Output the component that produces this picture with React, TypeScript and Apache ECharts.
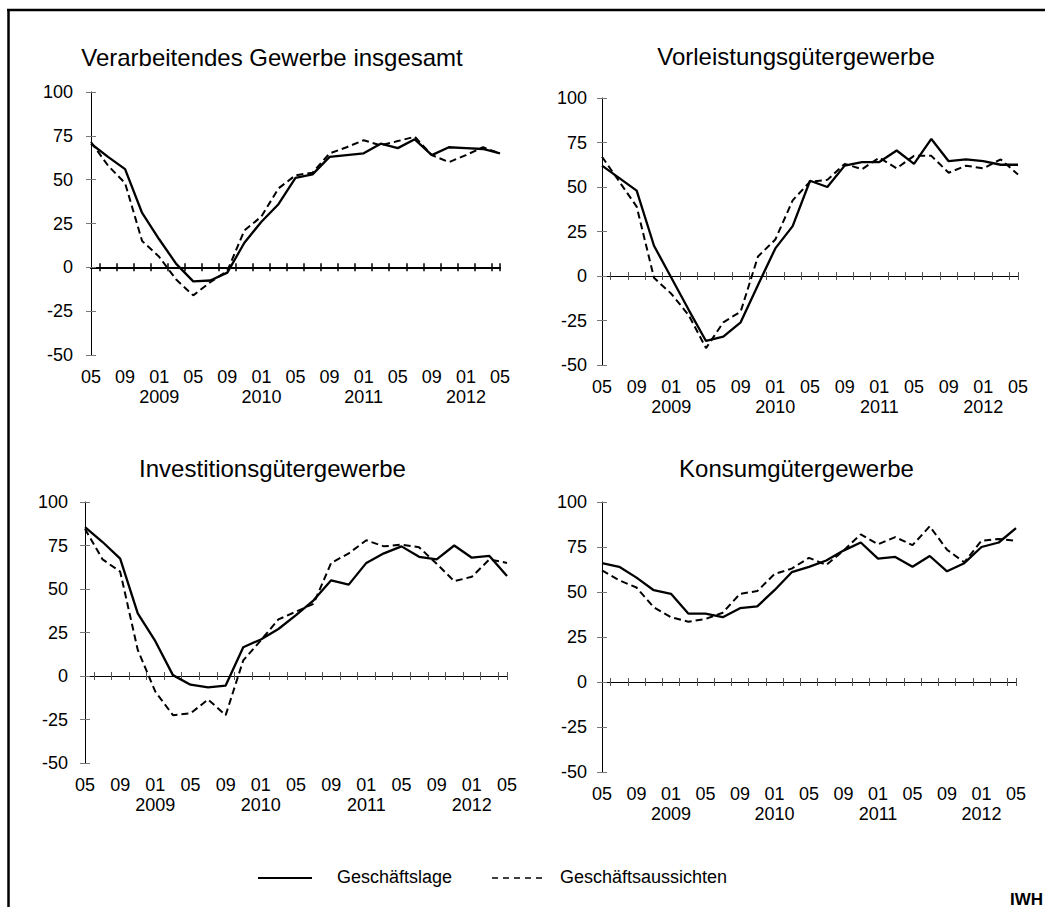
import React, { useEffect, useRef } from 'react';
import * as echarts from 'echarts';

// ---- axis categories (monthly, 05/2008 .. 05/2012) ----
const START_YEAR = 2008;
const START_MONTH = 5;
const MONTH_COUNT = 49;
const MONTHS: string[] = Array.from({ length: MONTH_COUNT }, (_, i) => {
  const t = START_MONTH - 1 + i;
  const m = (t % 12) + 1;
  const y = START_YEAR + Math.floor(t / 12);
  return `${m < 10 ? '0' + m : m}/${y}`;
});
const SURVEY_STEP = 2; // survey every two months: 05/2008, 07/2008, ...

const Y_MIN = -50;
const Y_MAX = 100;
const Y_STEP = 25;

const SERIES_NAMES = ['Geschäftslage', 'Geschäftsaussichten'];
const TITLES = [
  'Verarbeitendes Gewerbe insgesamt',
  'Vorleistungsgütergewerbe',
  'Investitionsgütergewerbe',
  'Konsumgütergewerbe',
];

// ---- values (bi-monthly, 05/2008 .. 05/2012) ----
const gesamtLage = [70.5, 63, 56, 31, 16, 2, -8, -7.5, -3, 14, 26, 36, 51, 53, 63, 64, 65, 70.5, 68, 73, 64, 68.5, 68, 67.5, 65];
const gesamtAussichten = [71.5, 58, 48, 15, 6, -7, -16, -8.5, -2, 21, 29, 45, 52.5, 54, 65, 68.5, 72.5, 69.5, 72, 74.5, 64, 60, 64, 68.5, 65];

const vorleistungLage = [62, 55, 48, 17, -1, -19, -36.5, -34, -26, -5, 15.5, 28, 53.5, 50, 62, 64, 64, 70.5, 63, 77, 64.5, 65.5, 64.5, 62.5, 62.5];
const vorleistungAussichten = [67, 53, 39, -1, -10, -22, -40.5, -26, -20, 11, 20.5, 42.5, 53, 54, 63, 60, 66.5, 60.5, 67.5, 67.5, 58, 62, 60.5, 65.5, 57];

const investitionLage = [85.5, 77, 67.5, 36, 20, 0.5, -5, -6.5, -5.5, 16.5, 21, 27, 35, 43.5, 55, 52.5, 65, 70.5, 74.5, 68.5, 67, 75, 68, 69, 57.5];
const investitionAussichten = [84.5, 67, 60, 15, -9, -22.5, -21.5, -13.5, -22.5, 9, 20.5, 32.5, 37, 41.5, 65, 70.5, 78, 74.5, 75.5, 74, 64.5, 54.5, 57, 67, 65];

const konsumLage = [66, 64, 58, 51, 49, 38, 38, 36, 41, 42, 51, 61, 64, 67.5, 73, 77.5, 68.5, 69.5, 64, 70, 61.5, 66, 75, 77.5, 85.5];
const konsumAussichten = [62, 56.5, 52.5, 41.5, 36, 33.5, 35, 38.5, 49, 50.5, 60, 63, 69, 65, 73, 82, 76.5, 80.5, 76, 86.5, 73.5, 66.5, 78.5, 79.5, 78.5];

const PANEL_DATA = [
  [gesamtLage, gesamtAussichten],
  [vorleistungLage, vorleistungAussichten],
  [investitionLage, investitionAussichten],
  [konsumLage, konsumAussichten],
];

// ---- layout ----
const FONT = '"Liberation Sans", Arial, Helvetica, sans-serif';
const LAYOUT = [
  { grid: { left: 91, top: 92, width: 409, height: 263 }, tx: 272, ty: 57, yMargin: 18, bold: true },
  { grid: { left: 602, top: 98, width: 416, height: 267 }, tx: 796, ty: 56, yMargin: 15, bold: false },
  { grid: { left: 85, top: 502, width: 422, height: 261 }, tx: 272.5, ty: 468.5, yMargin: 17, bold: false },
  { grid: { left: 602, top: 502, width: 414, height: 270 }, tx: 796.5, ty: 468.5, yMargin: 15, bold: false },
];

function buildOption() {
  const grid: any[] = [];
  const xAxis: any[] = [];
  const yAxis: any[] = [];
  const series: any[] = [];
  const graphic: any[] = [];

  const tickInterval = (i: number) => i % 2 === 1 || i === MONTH_COUNT - 1;
  const labelInterval = (i: number) => i % 4 === 0;
  const labelFormatter = (v: string) => {
    const [m, y] = v.split('/');
    return m === '01' ? `${m}\n${y}` : m;
  };

  LAYOUT.forEach((l, p) => {
    grid.push({ ...l.grid, containLabel: false });
    const zeroColor = '#000';
    const zeroWidth = l.bold ? 2 : 1;
    const tickStyle = { color: l.bold ? '#000' : '#555', width: l.bold ? 1.5 : 1 };

    xAxis.push({
      type: 'category', gridIndex: p, data: MONTHS, boundaryGap: false, position: 'bottom',
      axisLine: { show: false, onZero: false },
      axisTick: { show: false },
      splitLine: { show: false },
      axisLabel: {
        interval: labelInterval, formatter: labelFormatter, fontSize: 18, color: '#000',
        fontFamily: FONT, margin: 12, lineHeight: 20,
      },
    });
    xAxis.push({
      type: 'category', gridIndex: p, data: MONTHS, boundaryGap: false, position: 'bottom',
      axisLine: { show: true, onZero: true, lineStyle: { color: zeroColor, width: zeroWidth } },
      axisTick: { show: true, interval: tickInterval, length: 4, lineStyle: tickStyle },
      axisLabel: { show: false },
      splitLine: { show: false },
    });
    xAxis.push({
      type: 'category', gridIndex: p, data: MONTHS, boundaryGap: false, position: 'bottom',
      axisLine: { show: true, onZero: true, lineStyle: { color: zeroColor, width: zeroWidth } },
      axisTick: { show: true, inside: true, interval: tickInterval, length: 4, lineStyle: tickStyle },
      axisLabel: { show: false },
      splitLine: { show: false },
    });

    yAxis.push({
      type: 'value', gridIndex: p, min: Y_MIN, max: Y_MAX, interval: Y_STEP, position: 'left',
      axisLine: { show: true, onZero: false, lineStyle: { color: '#000', width: 1 } },
      axisTick: { show: true, length: 5, lineStyle: { color: '#777', width: 1 } },
      axisLabel: { fontSize: 18, color: '#000', fontFamily: FONT, margin: l.yMargin },
      splitLine: { show: false },
    });
    yAxis.push({
      type: 'value', gridIndex: p, min: Y_MIN, max: Y_MAX, interval: Y_STEP, position: 'left',
      axisLine: { show: false, onZero: false },
      axisTick: { show: true, inside: true, length: 5, lineStyle: { color: '#777', width: 1 } },
      axisLabel: { show: false },
      splitLine: { show: false },
    });

    const [lage, aus] = PANEL_DATA[p];
    series.push({
      type: 'line', name: SERIES_NAMES[0], xAxisIndex: p * 3, yAxisIndex: p * 2,
      data: lage.map((v, i) => [i * SURVEY_STEP, v]),
      symbol: 'none', z: 5,
      lineStyle: { color: '#000', width: 2.3, type: 'solid' },
    });
    series.push({
      type: 'line', name: SERIES_NAMES[1], xAxisIndex: p * 3, yAxisIndex: p * 2,
      data: aus.map((v, i) => [i * SURVEY_STEP, v]),
      symbol: 'none', z: 4,
      lineStyle: { color: '#000', width: 2, type: [7, 4] },
    });

    graphic.push({
      type: 'text', x: l.tx, y: l.ty,
      style: { text: TITLES[p], fill: '#000', fontSize: 24, fontFamily: FONT, align: 'center', verticalAlign: 'middle' },
    });
  });

  // frame
  graphic.push({ type: 'line', shape: { x1: 7, y1: 10, x2: 1045, y2: 10 }, style: { stroke: '#000', lineWidth: 2.5 } });
  graphic.push({ type: 'line', shape: { x1: 8.5, y1: 9, x2: 8.5, y2: 907 }, style: { stroke: '#000', lineWidth: 2.5 } });

  // legend
  const legendY = 878;
  graphic.push({ type: 'line', shape: { x1: 258, y1: legendY, x2: 312, y2: legendY }, style: { stroke: '#000', lineWidth: 2 } });
  graphic.push({ type: 'text', x: 337, y: legendY - 1, style: { text: SERIES_NAMES[0], fill: '#000', fontSize: 18, fontFamily: FONT, align: 'left', verticalAlign: 'middle' } });
  graphic.push({ type: 'line', shape: { x1: 492, y1: legendY, x2: 542, y2: legendY }, style: { stroke: '#000', lineWidth: 1.5, lineDash: [6, 5] } });
  graphic.push({ type: 'text', x: 560, y: legendY - 1, style: { text: SERIES_NAMES[1], fill: '#000', fontSize: 18, fontFamily: FONT, align: 'left', verticalAlign: 'middle' } });

  // source mark
  graphic.push({ type: 'text', x: 1010, y: 899, style: { text: 'IWH', fill: '#000', fontSize: 17, fontWeight: 'bold', fontFamily: FONT, align: 'left', verticalAlign: 'middle' } });

  return {
    animation: false,
    backgroundColor: '#fff',
    textStyle: { fontFamily: FONT },
    grid, xAxis, yAxis, series, graphic,
  };
}

export default function App() {
  const ref = useRef<HTMLDivElement>(null);
  useEffect(() => {
    if (!ref.current) return;
    const chart = echarts.init(ref.current, undefined, { renderer: 'svg' });
    chart.setOption(buildOption() as any);
    return () => chart.dispose();
  }, []);
  return (
    <div
      ref={ref}
      style={{ position: 'absolute', left: 0, top: 0, width: 1045, height: 907, background: '#fff' }}
    />
  );
}
